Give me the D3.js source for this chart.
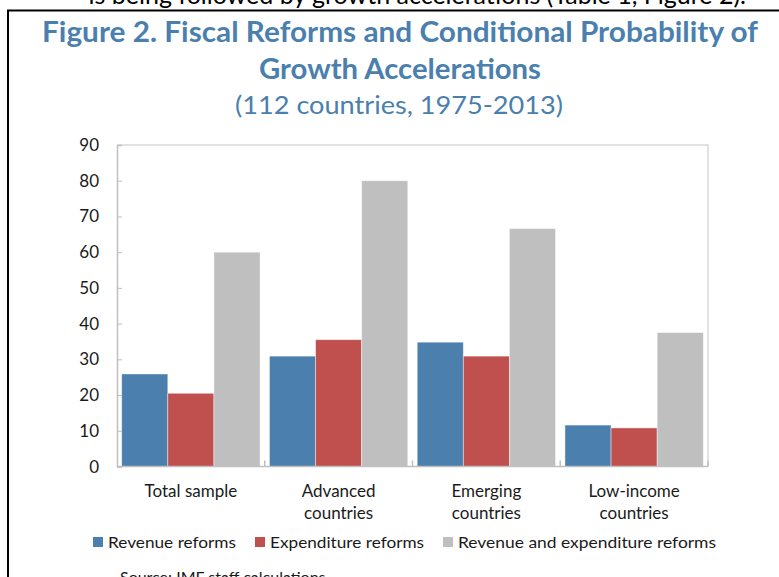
<!DOCTYPE html>
<html>
<head>
<meta charset="utf-8">
<script src="https://cdn.jsdelivr.net/npm/d3@7"></script>
<style>
  html, body { margin: 0; padding: 0; background: #fff; }
  svg { display: block; }
  text { font-family: Lato, "Open Sans", sans-serif; }
</style>
</head>
<body>
<svg id="chart" width="779" height="577"></svg>
<script>
// Conditional probability of growth accelerations after fiscal reforms (%)
const categories = [["Total sample"], ["Advanced", "countries"], ["Emerging", "countries"], ["Low-income", "countries"]];
const seriesNames = ["Revenue reforms", "Expenditure reforms", "Revenue and expenditure reforms"];
const revenue = [25.9, 30.9, 34.8, 11.6];
const expenditure = [20.5, 35.5, 30.9, 10.8];
const both = [60, 80, 66.6, 37.5];
const yTicks = [0, 10, 20, 30, 40, 50, 60, 70, 80, 90];
const colors = ["#4a7fae", "#c0504d", "#bfbfbf"];

const svg = d3.select("#chart");
const values = [revenue, expenditure, both];

const plot = { left: 117, right: 708, top: 145, bottom: 466.5 };

// Running text from the page above the box
svg.append("text")
  .attr("x", 746).attr("y", 4)
  .attr("text-anchor", "end")
  .attr("font-size", 25)
  .attr("fill", "#000")
  .text("is being followed by growth accelerations (Table 1, Figure 2).");

// Box frame
svg.append("line").attr("x1", 7).attr("x2", 779).attr("y1", 10.5).attr("y2", 10.5)
  .attr("stroke", "#000").attr("stroke-width", 2);
svg.append("line").attr("x1", 8).attr("x2", 8).attr("y1", 10).attr("y2", 577)
  .attr("stroke", "#000").attr("stroke-width", 2);

// Titles
const titleColor = "#4a7fae";
svg.append("text").attr("x", 400).attr("y", 42).attr("text-anchor", "middle")
  .attr("font-size", 28).attr("font-weight", "bold").attr("fill", titleColor)
  .attr("textLength", 716).attr("lengthAdjust", "spacingAndGlyphs")
  .text("Figure 2. Fiscal Reforms and Conditional Probability of");
svg.append("text").attr("x", 400).attr("y", 79).attr("text-anchor", "middle")
  .attr("font-size", 28).attr("font-weight", "bold").attr("fill", titleColor)
  .attr("textLength", 282).attr("lengthAdjust", "spacingAndGlyphs")
  .text("Growth Accelerations");
svg.append("text").attr("x", 399).attr("y", 114).attr("text-anchor", "middle")
  .attr("font-size", 25).attr("fill", titleColor)
  .attr("textLength", 328).attr("lengthAdjust", "spacingAndGlyphs")
  .text("(112 countries, 1975-2013)");

// Scales
const x = d3.scaleBand().domain(d3.range(categories.length))
  .range([plot.left, plot.right]).paddingInner(0).paddingOuter(0);
const xs = d3.scaleBand().domain(d3.range(seriesNames.length))
  .range([4.7, x.bandwidth() - 4.7]).padding(0);
const y = d3.scaleLinear().domain([0, 90]).range([plot.bottom, plot.top]);

const axisColor = "#bfbfbf";

// Plot frame (top and right)
svg.append("path")
  .attr("d", `M${plot.left},${plot.top}H${plot.right}V${plot.bottom}`)
  .attr("fill", "none").attr("stroke", "#d9d9d9").attr("stroke-width", 1.5);

// Bars
const g = svg.append("g");
values.forEach((vals, s) => {
  g.selectAll(null).data(vals).enter().append("rect")
    .attr("x", (d, i) => x(i) + xs(s))
    .attr("width", xs.bandwidth())
    .attr("y", d => y(d))
    .attr("height", d => y(0) - y(d))
    .attr("fill", colors[s])
    .attr("stroke", "#ffffff").attr("stroke-opacity", 0.55).attr("stroke-width", 0.8);
});

// Y axis
const yAxis = d3.axisRight(y).tickValues(yTicks).tickSize(5).tickFormat("");
const yg = svg.append("g").attr("transform", `translate(${plot.left},0)`).call(yAxis);
yg.select(".domain").attr("stroke", axisColor).attr("stroke-width", 1.5);
yg.selectAll(".tick line").attr("stroke", axisColor);
svg.append("g").selectAll("text").data(yTicks).enter().append("text")
  .attr("x", 99).attr("y", d => y(d) + 6)
  .attr("text-anchor", "end").attr("font-size", 17).attr("fill", "#1a1a1a")
  .text(d => d);

// X axis with boundary ticks pointing up into the plot
const boundaries = d3.range(1, categories.length + 1).map(i => plot.left + i * x.bandwidth());
svg.append("line").attr("x1", plot.left).attr("x2", plot.right)
  .attr("y1", plot.bottom).attr("y2", plot.bottom)
  .attr("stroke", axisColor).attr("stroke-width", 1.5);
svg.append("g").selectAll("line").data(boundaries).enter().append("line")
  .attr("x1", d => d).attr("x2", d => d)
  .attr("y1", plot.bottom).attr("y2", plot.bottom - 6)
  .attr("stroke", axisColor).attr("stroke-width", 1.5);

// Category labels
categories.forEach((lines, i) => {
  const t = svg.append("text").attr("text-anchor", "middle")
    .attr("font-size", 17).attr("fill", "#1a1a1a");
  lines.forEach((ln, k) => {
    t.append("tspan").attr("x", x(i) + x.bandwidth() / 2).attr("y", 497 + k * 22).text(ln);
  });
});

// Legend
const legendX = [93, 255, 443];
const legendW = [128, 154, 258];
const lg = svg.append("g");
seriesNames.forEach((name, s) => {
  lg.append("rect").attr("x", legendX[s]).attr("y", 537).attr("width", 10).attr("height", 10)
    .attr("fill", colors[s]);
  lg.append("text").attr("x", legendX[s] + 15).attr("y", 548)
    .attr("font-size", 16).attr("fill", "#1a1a1a")
    .attr("textLength", legendW[s]).attr("lengthAdjust", "spacingAndGlyphs")
    .text(name);
});

// Source note
svg.append("text").attr("x", 120).attr("y", 583)
  .attr("font-size", 16).attr("fill", "#1a1a1a")
  .text("Source: IMF staff calculations");
</script>
</body>
</html>
